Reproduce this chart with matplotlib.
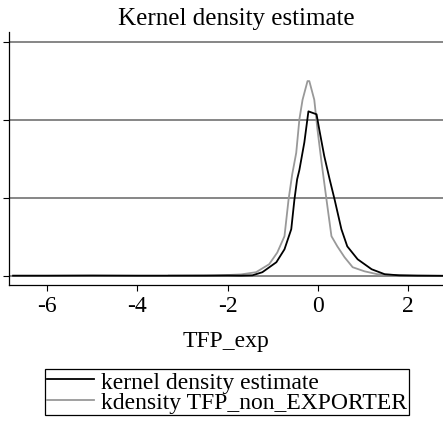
import numpy as np
import matplotlib
matplotlib.use('Agg')
import matplotlib.pyplot as plt

# Kernel density of TFP for exporters (black) and non-exporters (grey)
x_exp = [-6.75, -6.0, -5.0, -4.0, -3.3, -2.5, -2.0, -1.7, -1.45, -1.23, -0.92, -0.74,
         -0.59, -0.52, -0.46, -0.41, -0.30, -0.21, -0.03, 0.03, 0.14, 0.26, 0.37,
         0.52, 0.65, 0.88, 1.19, 1.48, 1.8, 2.2, 2.75]
y_exp = [0.002, 0.002, 0.003, 0.002, 0.002, 0.002, 0.003, 0.002, 0.004, 0.024, 0.088, 0.171,
         0.30, 0.49, 0.62, 0.68, 0.857, 1.056, 1.037, 0.94, 0.77, 0.62, 0.49,
         0.30, 0.19, 0.107, 0.043, 0.011, 0.004, 0.002, 0.001]

x_non = [-3.3, -2.8, -2.3, -2.0, -1.7, -1.37, -1.08, -0.90, -0.74, -0.65, -0.57, -0.48,
         -0.41, -0.34, -0.23, -0.19, -0.08, -0.01, 0.08, 0.19, 0.30, 0.43, 0.59,
         0.77, 1.03, 1.32, 1.7, 2.1, 2.75]
y_non = [0.002, 0.003, 0.004, 0.006, 0.01, 0.024, 0.075, 0.15, 0.255, 0.49, 0.65, 0.79,
         1.005, 1.13, 1.25, 1.25, 1.13, 0.94, 0.73, 0.49, 0.255, 0.19, 0.12,
         0.056, 0.03, 0.011, 0.006, 0.003, 0.001]

x_ticks = [-6, -4, -2, 0, 2]
y_ticks = [0, 0.5, 1, 1.5]

plt.rcParams['font.family'] = ['Liberation Serif', 'DejaVu Serif']

fig = plt.figure(figsize=(4.43, 4.27), dpi=100)
ax = fig.add_axes([9 / 443, 1 - 286 / 427, 1 - 9 / 443, (286 - 33) / 427])

for yt in y_ticks:
    ax.axhline(yt, color='#666666', lw=1.1, zorder=1)

l1, = ax.plot(x_exp, y_exp, color='black', lw=1.3, zorder=3, label='kernel density estimate')
l2, = ax.plot(x_non, y_non, color='#999999', lw=1.3, zorder=2, label='kdensity TFP_non_EXPORTER')

ax.set_xlim(-6.84, 2.77)
ax.set_ylim(-0.058, 1.565)
ax.set_xticks(x_ticks)
ax.set_xticklabels(['-6', '-4', '-2', '0', '2'])
ax.set_yticks(y_ticks)
ax.set_yticklabels([])
ax.tick_params(axis='x', length=4, width=0.8, labelsize=17, pad=3)
ax.tick_params(axis='y', length=4.5, width=0.8)

ax.spines['top'].set_visible(False)
ax.spines['right'].set_visible(False)
ax.spines['left'].set_linewidth(0.9)
ax.spines['bottom'].set_linewidth(0.9)

ax.set_xlabel('TFP_exp', fontsize=17, labelpad=10)
fig.text(236 / 443, 1 - 19 / 427, 'Kernel density estimate', fontsize=18,
         ha='center', va='center')

leg = fig.legend(handles=[l1, l2], loc='center', bbox_to_anchor=(227 / 443, 1 - 393 / 427),
                 fontsize=17, frameon=True, fancybox=False, framealpha=1,
                 edgecolor='black', handlelength=2.0, handletextpad=0.3,
                 labelspacing=-0.05, borderpad=0.08, borderaxespad=0)
leg.get_frame().set_linewidth(0.9)

fig.savefig('out.png', dpi=100)
